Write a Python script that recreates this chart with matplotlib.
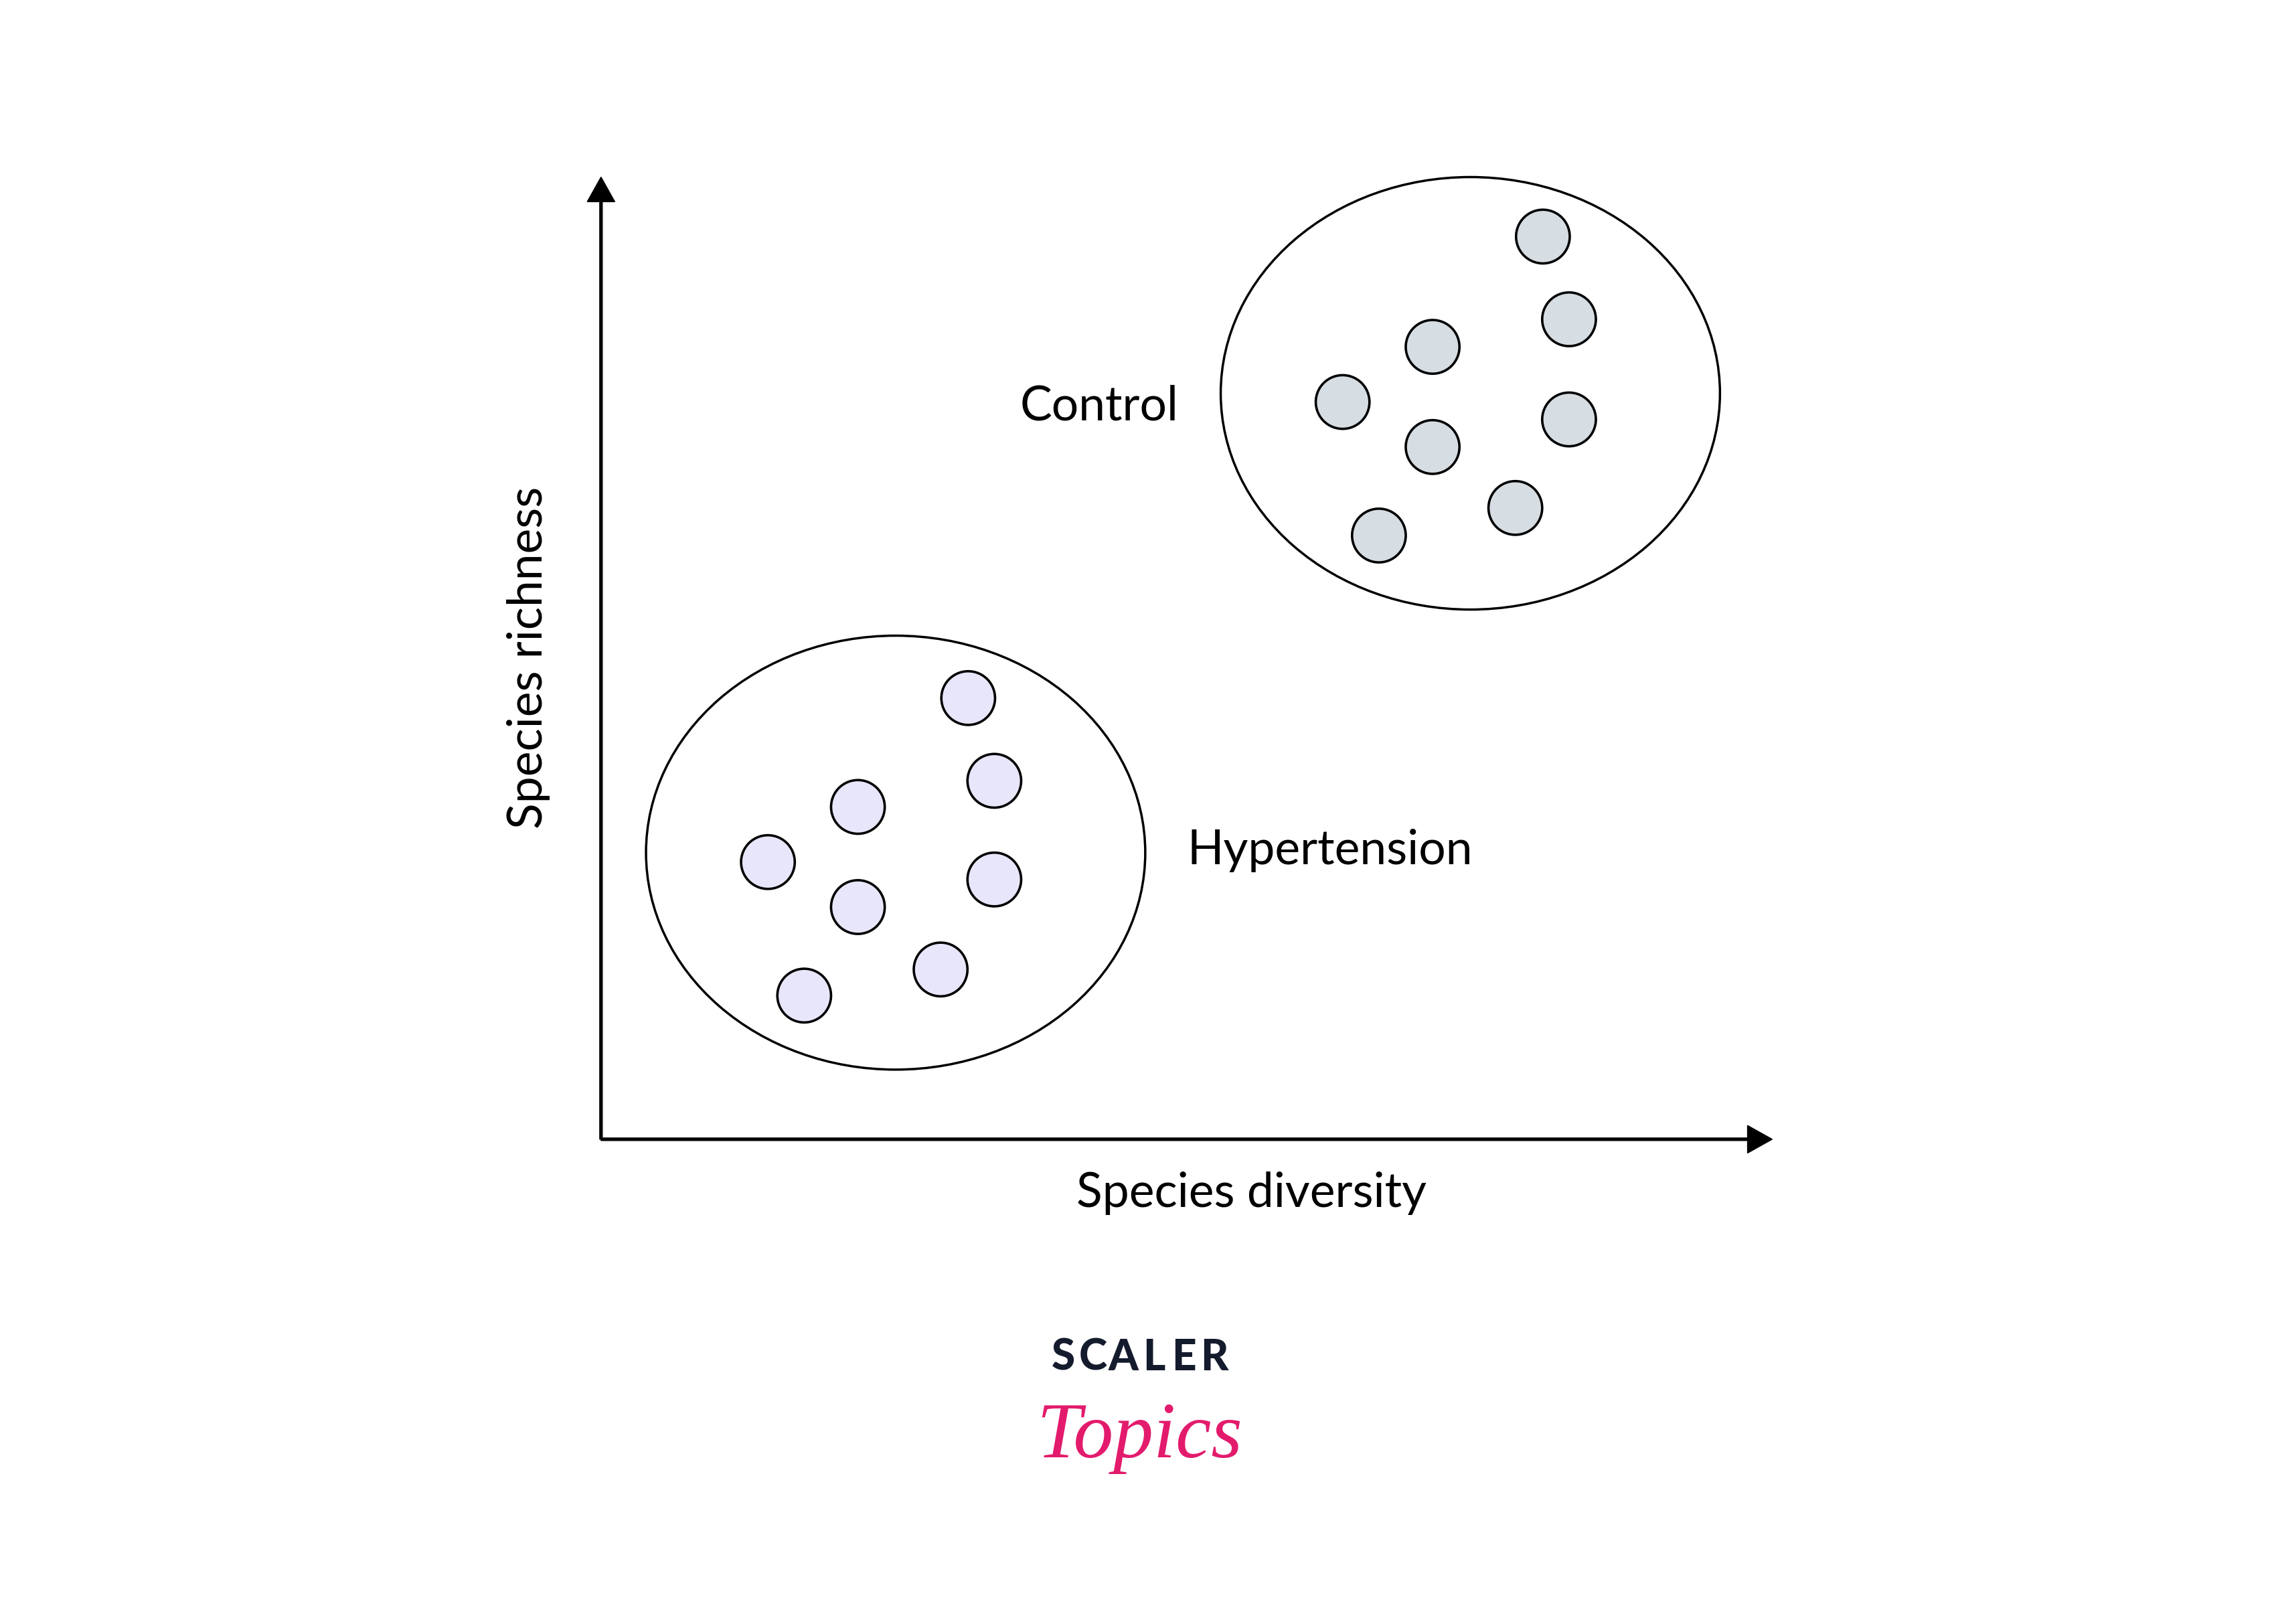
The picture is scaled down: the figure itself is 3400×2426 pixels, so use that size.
import matplotlib.pyplot as plt
from matplotlib.patches import Ellipse, Circle

# positions in diagram units (origin = corner of the axes)
control_x = [64.9, 66.7, 57.3, 51.1, 57.3, 66.7, 63.0, 53.6]
control_y = [62.2, 56.5, 54.6, 50.8, 47.7, 49.6, 43.5, 41.6]
hyper_x = [25.3, 27.1, 17.7, 11.5, 17.7, 27.1, 23.4, 14.0]
hyper_y = [30.4, 24.7, 22.9, 19.1, 16.0, 17.9, 11.7, 9.9]

# group outlines: centre x, centre y, width, height
groups = ['Control', 'Hypertension']
group_ellipses = [[59.9, 51.4, 34.4, 29.8],
                  [20.3, 19.75, 34.4, 29.9]]
group_colors = ['#d6dde3', '#e7e6fa']

x_label = 'Species diversity'
y_label = 'Species richness'

plt.rcParams['font.family'] = ['Lato', 'DejaVu Sans']

fig = plt.figure(figsize=(34, 24.26), dpi=100)
ax = fig.add_axes([0, 0, 1, 1])
ax.set_xlim(-41.4, 115.4)
ax.set_ylim(-33.4, 78.5)
ax.set_aspect('equal')
ax.axis('off')

# axes with arrowheads
ax.arrow(0, 0, 80.7, 0, width=0.18, head_width=1.9, head_length=1.7,
         length_includes_head=True, color='black')
ax.arrow(0, 0, 0, 66.3, width=0.18, head_width=1.9, head_length=1.7,
         length_includes_head=True, color='black')

# group ellipses and their points
all_x = [control_x, hyper_x]
all_y = [control_y, hyper_y]
for el, xs, ys, col in zip(group_ellipses, all_x, all_y, group_colors):
    ax.add_patch(Ellipse((el[0], el[1]), el[2], el[3], facecolor='none',
                         edgecolor='black', linewidth=2.5))
    for x, y in zip(xs, ys):
        ax.add_patch(Circle((x, y), 1.85, facecolor=col,
                            edgecolor='black', linewidth=2.6))

ax.text(39.8, 50.5, groups[0], ha='right', va='center', fontsize=51.5)
ax.text(40.4, 19.9, groups[1], ha='left', va='center', fontsize=51.5)
ax.text(44.8, -3.7, x_label, ha='center', va='center', fontsize=51.5)
ax.text(-5.0, 33.2, y_label, ha='center', va='center', fontsize=51.5,
        rotation=90)

# logo
letter_x = [31.85, 33.92, 36.0, 38.12, 40.15, 42.27]
for ch, lx in zip('SCALER', letter_x):
    ax.text(lx, -15.05, ch, ha='center', va='center', fontsize=46,
            fontweight='black', color='#141b2d')
ax.text(37.1, -20.6, 'Topics', ha='center', va='center', fontsize=86,
        family='Liberation Serif', style='italic', color='#e31b6d')

fig.savefig('out.png', dpi=100)
